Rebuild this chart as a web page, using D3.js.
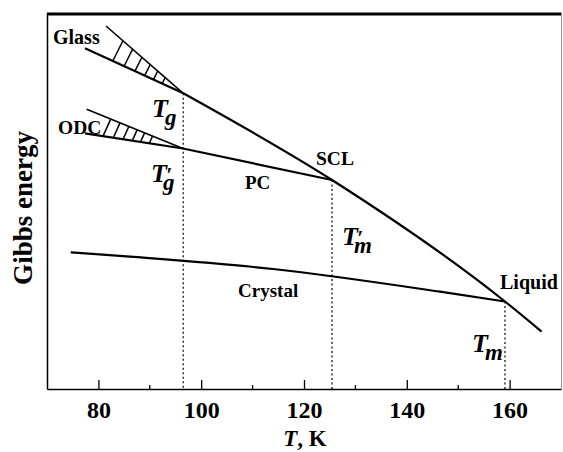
<!DOCTYPE html>
<html><head><meta charset="utf-8">
<script src="https://cdn.jsdelivr.net/npm/d3@7"></script>
<style>
body{margin:0;background:#fff}
svg{display:block}
text{font-family:"Liberation Serif","Times New Roman",serif;fill:#000;font-weight:bold}
</style>
</head><body>
<svg id="c" width="563" height="452"></svg>
<script>
// ---- data (T in K, G in arbitrary units) ----
const majorTicks = [80, 100, 120, 140, 160];
const minorTicks = [90, 110, 130, 150];
const sclT = [96.52, 125.45, 159.1, 166.24];
const sclG = [78.64, 55.59, 23.27, 15.24];
const glassUpperT = [81.48, 96.52];
const glassUpperG = [96.54, 78.64];
const glassT = [77.39, 96.52];
const glassG = [90.61, 78.64];
const odcUpperT = [77.72, 96.46];
const odcUpperG = [74.39, 63.96];
const pcT = [77.39, 96.46, 125.45];
const pcG = [68.0, 63.96, 55.59];
const crystalT = [74.61, 86.15, 113.97, 146.46, 159.1];
const crystalG = [36.36, 35.19, 31.91, 25.88, 23.27];
const transT = [96.5, 125.45, 159.1];
const transG = [78.64, 55.59, 23.27];
const glassHatchT = [82.8, 85.0, 87.1, 89.0, 90.7, 92.4];
const odcHatchT = [80.9, 82.9, 84.8, 86.6, 88.2, 89.9];

const svg = d3.select("#c");
const x = d3.scaleLinear().domain([70, 170]).range([47, 561]);
const y = d3.scaleLinear().domain([0, 100]).range([389, 13]);

const zip = (a, b) => a.map((v, i) => [v, b[i]]);
const line = d3.line().x(d => x(d[0])).y(d => y(d[1]));
const smooth = d3.line().x(d => x(d[0])).y(d => y(d[1])).curve(d3.curveMonotoneX);

// frame
svg.append("line").attr("x1", 47).attr("x2", 561.5).attr("y1", 14).attr("y2", 14).attr("stroke", "#000").attr("stroke-width", 3);
svg.append("line").attr("x1", 561.5).attr("x2", 561.5).attr("y1", 13).attr("y2", 389).attr("stroke", "#999").attr("stroke-width", 1);
svg.append("line").attr("x1", 47.5).attr("x2", 47.5).attr("y1", 13).attr("y2", 389.5).attr("stroke", "#000").attr("stroke-width", 1.5);

// x axis
const ax = d3.axisBottom(x).tickValues(majorTicks).tickSize(-9).tickSizeOuter(0);
const g = svg.append("g").attr("transform", "translate(0,389)").call(ax);
g.select(".domain").attr("stroke", "#000").attr("stroke-width", 1.5);
g.selectAll(".tick line").attr("stroke", "#000").attr("stroke-width", 1.3);
g.selectAll(".tick text").attr("font-size", 24).attr("font-family", "Liberation Serif").attr("font-weight", "bold")
  .attr("fill", "#000").attr("dy", null).attr("y", 29);
g.selectAll(".minor").data(minorTicks).enter().append("line")
  .attr("x1", d => x(d)).attr("x2", d => x(d)).attr("y1", 0).attr("y2", -4)
  .attr("stroke", "#000").attr("stroke-width", 1.3);

// dotted transition lines
svg.selectAll(".trans").data(zip(transT, transG)).enter().append("line")
  .attr("x1", d => x(d[0])).attr("x2", d => x(d[0]))
  .attr("y1", d => y(d[1])).attr("y2", y(0))
  .attr("stroke", "#000").attr("stroke-width", 1.2).attr("stroke-dasharray", "2,2.5");

// curves
const curves = [
  [smooth, zip(sclT, sclG), 2.2],
  [line, zip(glassUpperT, glassUpperG), 1.6],
  [line, zip(glassT, glassG), 2.2],
  [line, zip(odcUpperT, odcUpperG), 1.6],
  [line, zip(pcT, pcG), 2.2],
  [smooth, zip(crystalT, crystalG), 2.2]
];
curves.forEach(([gen, pts, w]) => {
  svg.append("path").attr("d", gen(pts)).attr("fill", "none")
    .attr("stroke", "#000").attr("stroke-width", w).attr("stroke-linecap", "butt");
});

// hatching between two straight lines
function hatch(ts, loT, loG, upT, upG, s) {
  const lx0 = x(loT[0]), ly0 = y(loG[0]), lm = (y(loG[1]) - ly0) / (x(loT[1]) - lx0);
  const ux0 = x(upT[0]), uy0 = y(upG[0]), um = (y(upG[1]) - uy0) / (x(upT[1]) - ux0);
  ts.forEach(t => {
    const x0 = x(t);
    const yl = ly0 + lm * (x0 - lx0);
    const yu = uy0 + um * (x0 - ux0);
    const tt = (yl - yu) / (1 + um * s);
    svg.append("line").attr("x1", x0).attr("y1", yl)
      .attr("x2", x0 + s * tt).attr("y2", yl - tt)
      .attr("stroke", "#000").attr("stroke-width", 1.5);
  });
}
hatch(glassHatchT, glassT, glassG, glassUpperT, glassUpperG, 0.5);
hatch(odcHatchT, pcT.slice(0, 2), pcG.slice(0, 2), odcUpperT, odcUpperG, 0.45);

// labels
const labels = [
  ["Glass", 53, 43.5, 20],
  ["ODC", 58, 133.5, 19.5],
  ["SCL", 316, 165, 19.5],
  ["PC", 245, 188.5, 19],
  ["Crystal", 238, 297, 19],
  ["Liquid", 500, 289, 20]
];
labels.forEach(([t, lx, ly, fs]) => {
  svg.append("text").attr("x", lx).attr("y", ly).attr("font-size", fs).text(t);
});

// temperature labels
function tLabel(sub, prime, lx, ly) {
  const t = svg.append("text").attr("x", lx).attr("y", ly).attr("font-size", 26).attr("font-style", "italic");
  t.append("tspan").text("T");
  if (prime) {
    t.append("tspan").attr("dx", -1).attr("font-size", 22).text("′");
    t.append("tspan").attr("dx", -9).attr("dy", 8).attr("font-size", 23).text(sub);
  } else {
    t.append("tspan").attr("dx", -3).attr("dy", 8).attr("font-size", 23).text(sub);
  }
}
tLabel("g", false, 152, 117);
tLabel("g", true, 151, 182);
tLabel("m", true, 342, 245);
tLabel("m", false, 472, 352);

// axis titles
const xt = svg.append("text").attr("x", 305).attr("y", 446).attr("text-anchor", "middle").attr("font-size", 23);
xt.append("tspan").attr("font-style", "italic").text("T");
xt.append("tspan").text(", K");
svg.append("text").attr("transform", "translate(32,208) rotate(-90)").attr("text-anchor", "middle")
  .attr("font-size", 27).text("Gibbs energy");
</script>
</body></html>
